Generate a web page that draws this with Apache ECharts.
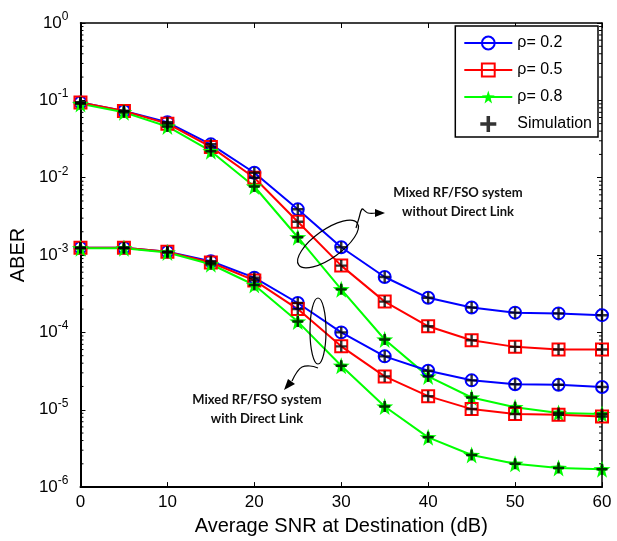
<!DOCTYPE html>
<html>
<head>
<meta charset="utf-8">
<script src="https://cdn.jsdelivr.net/npm/echarts@6/dist/echarts.min.js"></script>
<style>
  html, body { margin: 0; padding: 0; background: #fff; }
  #chart { width: 617px; height: 541px; }
</style>
</head>
<body>
<div id="chart"></div>
<script>
// Average SNR at destination (dB)
const snr = [0, 5, 10, 15, 20, 25, 30, 35, 40, 45, 50, 55, 60];

// ABER without direct link
const noDL_rho02 = [0.094, 0.073, 0.052, 0.027, 0.0116, 0.0039, 0.00126, 0.00052, 0.00028, 0.00021, 0.00018, 0.000176, 0.000167];
const noDL_rho05 = [0.094, 0.073, 0.050, 0.025, 0.0100, 0.0027, 0.00073, 0.00025, 0.00012, 0.000079, 0.000065, 0.000060, 0.000060];
const noDL_rho08 = [0.090, 0.070, 0.046, 0.022, 0.0077, 0.0017, 0.00036, 0.000081, 0.000027, 0.0000144, 0.0000108, 0.0000091, 0.0000088];

// ABER with direct link
const DL_rho02 = [0.00124, 0.00124, 0.00110, 0.00083, 0.00051, 0.00024, 0.00010, 0.000049, 0.000032, 0.000024, 0.0000214, 0.0000210, 0.0000197];
const DL_rho05 = [0.00124, 0.00124, 0.00110, 0.00080, 0.00047, 0.00020, 0.000066, 0.000027, 0.000015, 0.0000102, 0.0000088, 0.0000086, 0.0000082];
const DL_rho08 = [0.00122, 0.00122, 0.00108, 0.00076, 0.00041, 0.000138, 0.000037, 0.000011, 0.0000044, 0.0000026, 0.0000020, 0.00000177, 0.0000017];

const seriesNames = ['ρ= 0.2', 'ρ= 0.5', 'ρ= 0.8', 'Simulation'];

const FONT = 'Liberation Sans, Arial, sans-serif';
const STAR = 'path://M50,0 L61.8,36.2 L100,38.2 L69.1,61.8 L79.4,100 L50,77 L20.6,100 L30.9,61.8 L0,38.2 L38.2,36.2 Z';
const PLUS = 'path://M39,0 H61 V39 H100 V61 H61 V100 H39 V61 H0 V39 H39 Z';

const pairs = ys => snr.map((x, i) => [x, ys[i]]);

function curve(name, ys, color, symbol, size, filled) {
  return {
    name: name,
    type: 'line',
    data: pairs(ys),
    symbol: symbol,
    symbolSize: size,
    showAllSymbol: true,
    lineStyle: { color: color, width: 2 },
    itemStyle: filled
      ? { color: color, borderColor: color, borderWidth: 0 }
      : { color: 'rgba(255,255,255,0)', borderColor: color, borderWidth: 2 },
    emphasis: { disabled: true },
    z: 3
  };
}

// Minor log ticks drawn through the y scale (2..9 per decade)
const minorTicks = [];
for (let e = -6; e < 0; e++) {
  for (let m = 2; m <= 9; m++) minorTicks.push([0, m * Math.pow(10, e)]);
}

const allSim = [].concat(
  pairs(noDL_rho02), pairs(noDL_rho05), pairs(noDL_rho08),
  pairs(DL_rho02), pairs(DL_rho05), pairs(DL_rho08)
);

const chart = echarts.init(document.getElementById('chart'), null, { renderer: 'canvas' });

const option = {
  backgroundColor: '#fff',
  animation: false,
  grid: { left: 79, right: 15, top: 23, bottom: 53 },
  legend: {
    data: seriesNames,
    orient: 'vertical',
    right: 19,
    top: 26,
    backgroundColor: '#fff',
    borderColor: '#000',
    borderWidth: 1.5,
    borderRadius: 0,
    padding: [9, 6, 5, 8],
    itemWidth: 48,
    itemHeight: 16,
    itemGap: 11,
    textStyle: { fontFamily: FONT, fontSize: 16, color: '#000' }
  },
  xAxis: [
    {
      type: 'value',
      min: 0, max: 60, interval: 10,
      name: 'Average SNR at Destination (dB)',
      nameLocation: 'middle',
      nameGap: 21,
      nameTextStyle: { fontFamily: FONT, fontSize: 20, color: '#000', verticalAlign: 'top' },
      axisLine: { onZero: false, lineStyle: { color: '#000', width: 2 } },
      axisTick: { inside: true, length: 5, lineStyle: { color: '#000', width: 1 } },
      axisLabel: { fontFamily: FONT, fontSize: 17, color: '#000', margin: 7 },
      splitLine: { show: false }
    },
    {
      type: 'value',
      position: 'top',
      min: 0, max: 60, interval: 10,
      axisLine: { onZero: false, lineStyle: { color: '#000', width: 1.5 } },
      axisTick: { inside: true, length: 5, lineStyle: { color: '#000', width: 1 } },
      axisLabel: { show: false },
      splitLine: { show: false }
    }
  ],
  yAxis: [
    {
      type: 'log',
      logBase: 10,
      min: 1e-6, max: 1,
      interval: 1,
      name: 'ABER',
      nameLocation: 'middle',
      nameGap: 47,
      nameRotate: 90,
      nameTextStyle: { fontFamily: FONT, fontSize: 20, color: '#000' },
      axisLine: { onZero: false, lineStyle: { color: '#000', width: 2 } },
      axisTick: { inside: true, length: 5, lineStyle: { color: '#000', width: 1 } },
      axisLabel: {
        margin: 12,
        formatter: v => '{b|10}{s|' + Math.round(Math.log10(v)) + '}',
        rich: {
          b: { fontFamily: FONT, fontSize: 17, color: '#000' },
          s: { fontFamily: FONT, fontSize: 12, color: '#000', padding: [0, 0, 13, 0] }
        }
      },
      splitLine: { show: false }
    },
    {
      type: 'log',
      logBase: 10,
      position: 'right',
      min: 1e-6, max: 1,
      interval: 1,
      axisLine: { onZero: false, lineStyle: { color: '#000', width: 1.5 } },
      axisTick: { inside: true, length: 5, lineStyle: { color: '#000', width: 1 } },
      axisLabel: { show: false },
      splitLine: { show: false }
    }
  ],
  series: [
    {
      type: 'custom',
      name: 'minor-ticks',
      silent: true,
      clip: false,
      data: minorTicks,
      renderItem: (params, api) => {
        const v = api.value(1);
        const l = api.coord([0, v]);
        const r = api.coord([60, v]);
        const st = { stroke: '#000', lineWidth: 1 };
        return {
          type: 'group',
          children: [
            { type: 'line', shape: { x1: l[0], y1: l[1], x2: l[0] + 3, y2: l[1] }, style: st },
            { type: 'line', shape: { x1: r[0] - 3, y1: r[1], x2: r[0], y2: r[1] }, style: st }
          ]
        };
      },
      z: 1
    },
    curve(seriesNames[0], noDL_rho02, '#0000ff', 'circle', 12, false),
    curve(seriesNames[1], noDL_rho05, '#ff0000', 'rect', 12, false),
    curve(seriesNames[2], noDL_rho08, '#00ff00', STAR, 17, true),
    curve(seriesNames[0], DL_rho02, '#0000ff', 'circle', 12, false),
    curve(seriesNames[1], DL_rho05, '#ff0000', 'rect', 12, false),
    curve(seriesNames[2], DL_rho08, '#00ff00', STAR, 17, true),
    {
      name: seriesNames[3],
      type: 'scatter',
      data: allSim,
      symbol: PLUS,
      symbolSize: 11,
      itemStyle: { color: '#000' },
      emphasis: { disabled: true },
      z: 5
    }
  ],
  graphic: [
    // ellipse around the curves without direct link
    {
      type: 'ellipse',
      shape: { cx: 0, cy: 0, rx: 36, ry: 14 },
      x: 328, y: 244,
      rotation: 0.62,
      style: { fill: 'none', stroke: '#000', lineWidth: 1.2 },
      z: 10
    },
    {
      type: 'polyline',
      shape: { points: [[356, 228], [359, 218], [362, 209], [365, 211], [368, 213], [376, 213]], smooth: 0.4 },
      style: { fill: 'none', stroke: '#000', lineWidth: 1.2 },
      z: 10
    },
    {
      type: 'polygon',
      shape: { points: [[385, 213], [375, 209], [375, 217]] },
      style: { fill: '#000' },
      z: 10
    },
    {
      type: 'text',
      x: 458, y: 202,
      style: {
        text: 'Mixed RF/FSO system\nwithout Direct Link',
        fontFamily: 'Lato, Open Sans, sans-serif',
        fontWeight: 'bold',
        fontSize: 13,
        lineHeight: 19,
        fill: '#111',
        align: 'center',
        verticalAlign: 'middle'
      },
      z: 10
    },
    // ellipse around the curves with direct link
    {
      type: 'ellipse',
      shape: { cx: 318, cy: 331, rx: 8, ry: 33 },
      style: { fill: 'none', stroke: '#000', lineWidth: 1.2 },
      z: 10
    },
    {
      type: 'polyline',
      shape: { points: [[318, 368], [310, 366], [302, 367], [297, 372], [292, 381]], smooth: 0.4 },
      style: { fill: 'none', stroke: '#000', lineWidth: 1.2 },
      z: 10
    },
    {
      type: 'polygon',
      shape: { points: [[284, 390], [288, 379], [295, 384]] },
      style: { fill: '#000' },
      z: 10
    },
    {
      type: 'text',
      x: 257, y: 409,
      style: {
        text: 'Mixed RF/FSO system\nwith Direct Link',
        fontFamily: 'Lato, Open Sans, sans-serif',
        fontWeight: 'bold',
        fontSize: 13,
        lineHeight: 19,
        fill: '#111',
        align: 'center',
        verticalAlign: 'middle'
      },
      z: 10
    }
  ]
};

chart.setOption(option);
</script>
</body>
</html>
